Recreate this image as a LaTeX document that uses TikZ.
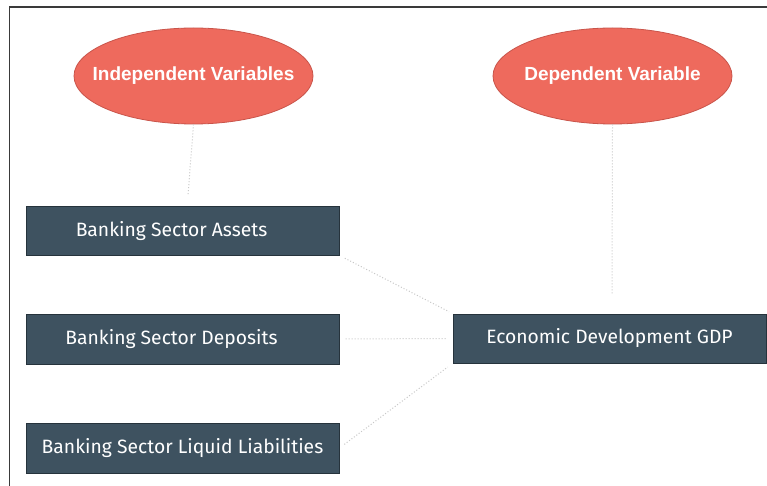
\documentclass[tikz,border=0pt]{standalone}
\usepackage{fontspec}
\setmainfont{Fira Sans}
\newfontfamily\headfont{Liberation Sans}
\usetikzlibrary{shapes.geometric}
\definecolor{coral}{HTML}{EE6A5D}
\definecolor{coraledge}{HTML}{C9544A}
\definecolor{slate}{HTML}{3E5260}
\definecolor{slateedge}{HTML}{26333C}
\definecolor{linkgrey}{HTML}{C8C8C8}
\definecolor{framegrey}{HTML}{3A3A3A}
\begin{document}
\begin{tikzpicture}[x=1pt,y=-1pt,
  varell/.style={ellipse, fill=coral, draw=coraledge, line width=0.8pt,
    minimum width=239pt, minimum height=96pt, inner xsep=-30pt, inner ysep=0pt,
    text=white, font=\headfont\bfseries\fontsize{19}{21}\selectfont},
  itembox/.style={rectangle, fill=slate, draw=slateedge, line width=1pt,
    minimum width=313pt, inner sep=0pt, text=white,
    font=\fontsize{19.3}{22}\selectfont},
  leftlabel/.style={execute at begin node=\kern-22pt},
  link/.style={linkgrey, dotted, line width=1pt}]
  \useasboundingbox (0,0) rectangle (767,486);
  \fill[white] (0,0) rectangle (767,486);
  % frame
  \draw[framegrey, line width=1.4pt] (767,7) -- (9.5,7) -- (9.5,486);

  % variable headings
  \node[varell] (indep) at (193.5,76) {Independent Variables};
  \node[varell] (dep) at (612.5,76) {Dependent Variable};

  % indicator boxes
  \node[itembox, leftlabel, minimum height=48pt] (assets) at (182.5,231) {Banking Sector Assets};
  \node[itembox, leftlabel, minimum height=50pt] (deposits) at (182.5,339) {Banking Sector Deposits};
  \node[itembox, minimum height=50pt] (liquid) at (182.5,448) {Banking Sector Liquid Liabilities};
  \node[itembox, minimum height=49pt] (gdp) at (609.5,338.5) {Economic Development GDP};

  % faint connectors
  \coordinate (independ) at (188,195);
  \coordinate (depend) at (612,295);
  \draw[link] (indep.south) -- (independ);
  \draw[link] (dep.south) -- (depend);
  \draw[link, shorten <=6pt, shorten >=4pt] (assets.south east) -- (gdp.north west);
  \draw[link, shorten <=6pt, shorten >=6pt] (deposits.east) -- (gdp.west);
  \draw[link, shorten <=6pt, shorten >=6pt] (liquid.east) -- (gdp.south west);
\end{tikzpicture}
\end{document}
